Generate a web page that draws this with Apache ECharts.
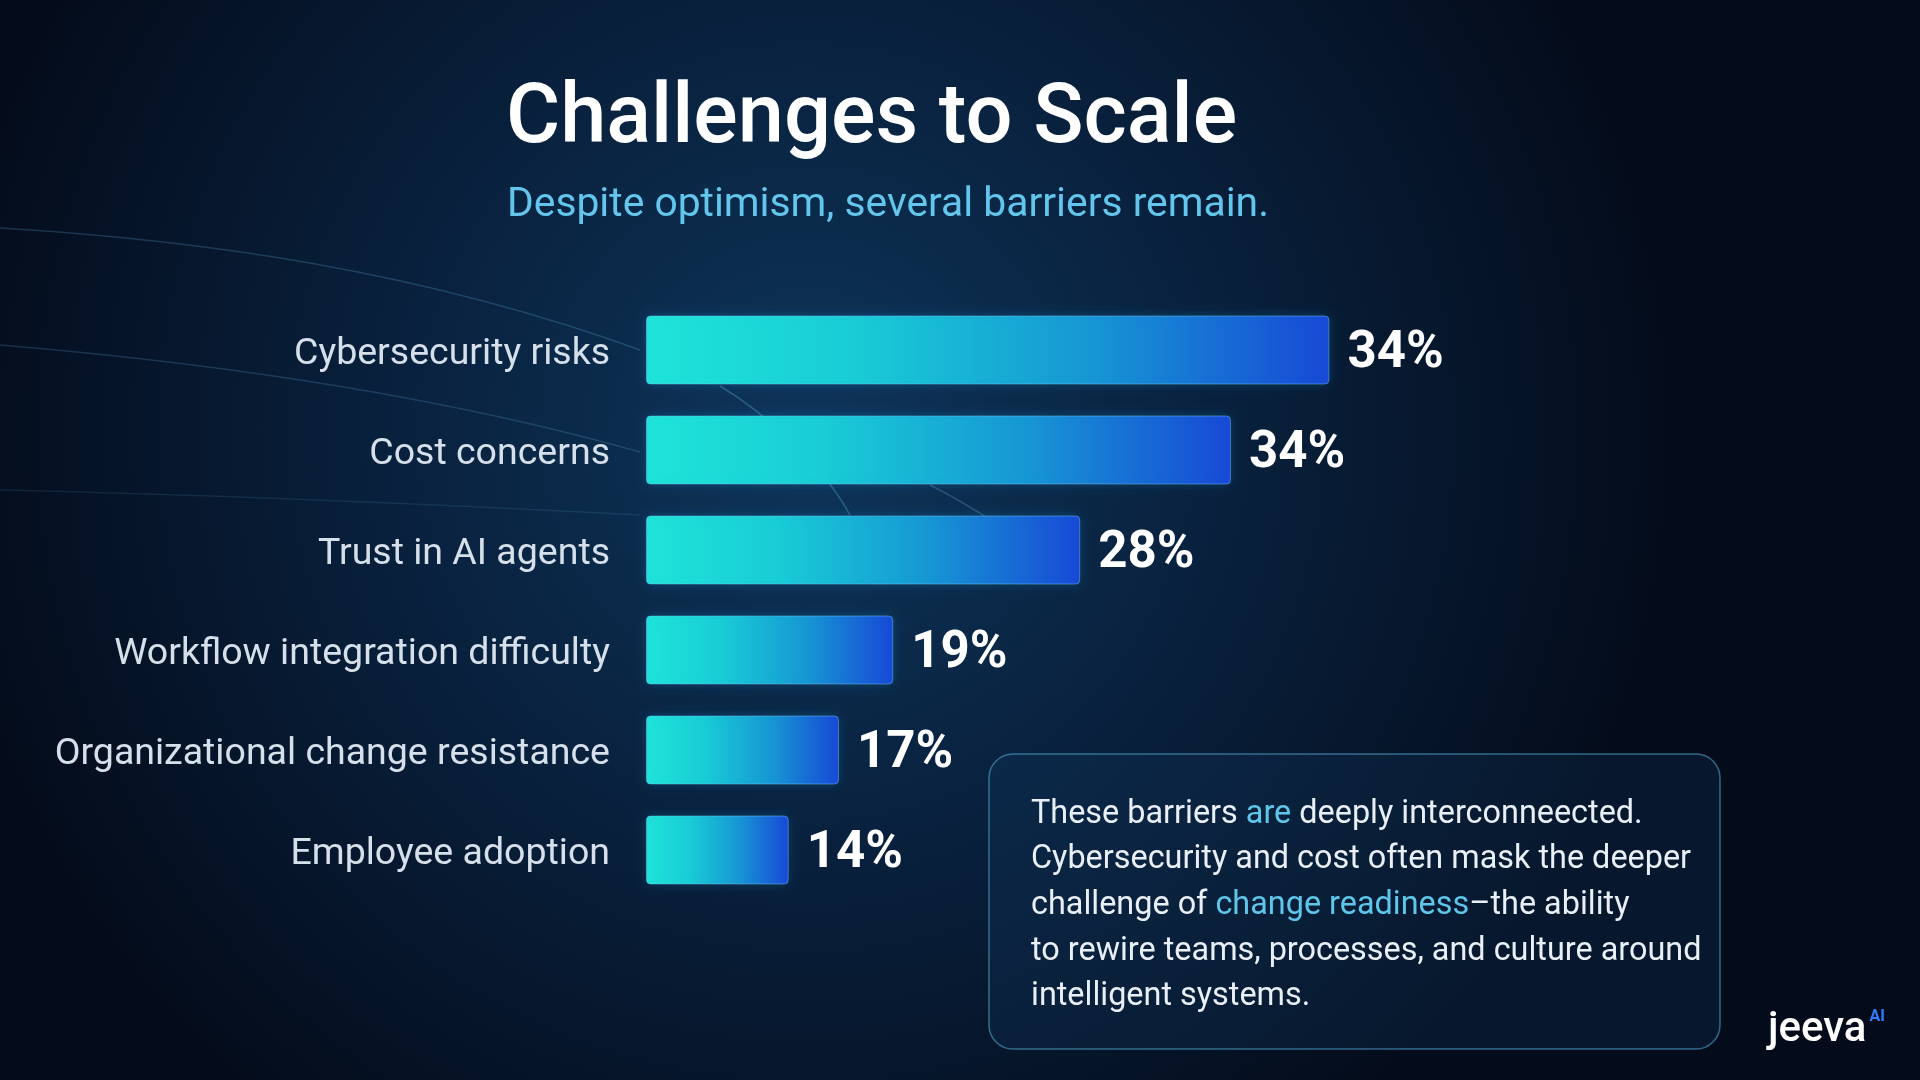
<!DOCTYPE html>
<html>
<head>
<meta charset="utf-8">
<title>Challenges to Scale</title>
<script src="https://cdn.jsdelivr.net/npm/echarts@6/dist/echarts.min.js"></script>
<style>
html,body{margin:0;padding:0;background:#050f20;}
#chart{width:1920px;height:1080px;}
</style>
</head>
<body>
<div id="chart"></div>
<script>
// categories, top to bottom
var categories=["Cybersecurity risks","Cost concerns","Trust in AI agents","Workflow integration difficulty","Organizational change resistance","Employee adoption"];
// percentages printed next to each bar
var shownValues=[34,34,28,19,17,14];
// bar lengths as drawn in the slide (34% bar as reference)
var barValues=[34,29.1,21.6,12.3,9.6,7.1];

var titleText="Challenges to Scale";
var subText="Despite optimism, several barriers remain.";

var chart=echarts.init(document.getElementById("chart"));

//faint background curves
function curve(x1,y1,cx1,cy1,cx2,cy2,x2,y2,op){
	return {
		type:"bezierCurve",
		silent:true,
		z:-10,
		shape:{x1:x1,y1:y1,cpx1:cx1,cpy1:cy1,cpx2:cx2,cpy2:cy2,x2:x2,y2:y2},
		style:{stroke:"rgba(110,190,240,"+op+")",lineWidth:1.5,fill:null}
	};
}

var option={
	backgroundColor:{
		type:"radial",x:0.42,y:0.4,r:0.8,
		colorStops:[
			{offset:0,color:"#0e355a"},
			{offset:0.45,color:"#09223f"},
			{offset:1,color:"#040c1b"}
		]
	},
	title:[
		{
			text:titleText,left:506,top:80,padding:0,
			textStyle:{color:"#ffffff",fontFamily:"Roboto",fontSize:83,fontWeight:500}
		},
		{
			text:subText,left:507,top:185,padding:0,
			textStyle:{color:"#63c6ec",fontFamily:"Roboto",fontSize:40.8,fontWeight:400}
		}
	],
	grid:{left:646,right:269,top:300,bottom:180,containLabel:false},
	xAxis:{
		type:"value",min:0,max:50,
		show:false
	},
	yAxis:{
		type:"category",
		inverse:true,
		data:categories,
		axisLine:{show:false},
		axisTick:{show:false},
		axisLabel:{
			color:"#d6e0eb",
			fontFamily:"Roboto",
			fontSize:37.5,
			margin:36,
			//small line box so the glyphs sit a few px below the tick
			verticalAlign:"top",
			lineHeight:10
		}
	},
	series:[
		{
			type:"bar",
			data:barValues,
			barWidth:69,
			itemStyle:{
				borderRadius:4,
				borderColor:"rgba(120,200,255,0.45)",
				borderWidth:1,
				color:{
					type:"linear",x:0,y:0,x2:1,y2:0,
					colorStops:[
						{offset:0,color:"#1fe4d9"},
						{offset:0.3,color:"#19cdd6"},
						{offset:0.65,color:"#1797d4"},
						{offset:1,color:"#1849d6"}
					]
				},
				shadowColor:"rgba(20,160,230,0.25)",
				shadowBlur:12
			},
			label:{
				show:true,
				position:"right",
				distance:18,
				offset:[0,4],
				color:"#ffffff",
				fontFamily:"Roboto",
				fontWeight:"bold",
				fontSize:51,
				formatter:function(p){
					return shownValues[p.dataIndex]+"%";
				}
			}
		}
	],
	graphic:[
		curve(0,228,200,240,420,270,640,350,0.22),
		curve(0,345,180,360,420,390,640,452,0.2),
		curve(0,490,220,495,450,505,640,515,0.12),
		curve(720,386,760,410,820,460,850,515,0.3),
		curve(930,485,960,500,1000,525,1020,540,0.25),
		//text panel
		{
			type:"rect",
			shape:{x:989,y:754,width:731,height:295,r:24},
			style:{fill:"rgba(18,58,96,0.28)",stroke:"rgba(90,175,215,0.55)",lineWidth:1.5}
		},
		{
			type:"text",
			x:1031,y:792,
			style:{
				text:"These barriers {hl|are} deeply interconneected.\nCybersecurity and cost often mask the deeper\nchallenge of {hl|change readiness}\u2013the ability\nto rewire teams, processes, and culture around\nintelligent systems.",
				fill:"#e8eff6",
				fontFamily:"Roboto",
				fontSize:32.4,
				lineHeight:45.6,
				verticalAlign:"top",
				rich:{
					hl:{fill:"#5ec6ea",fontFamily:"Roboto",fontSize:32.4,lineHeight:45.6}
				}
			}
		},
		//logo
		{
			type:"text",
			x:1768,y:1030,
			style:{
				text:"jeeva{ai|AI}",
				fill:"#ffffff",
				fontFamily:"Roboto",
				fontSize:42,
				fontWeight:500,
				verticalAlign:"middle",
				rich:{
					ai:{fill:"#2f7dff",fontFamily:"Roboto",fontSize:16,fontWeight:"bold",verticalAlign:"top",padding:[0,0,14,3]}
				}
			}
		}
	]
};

chart.setOption(option);
</script>
</body>
</html>
